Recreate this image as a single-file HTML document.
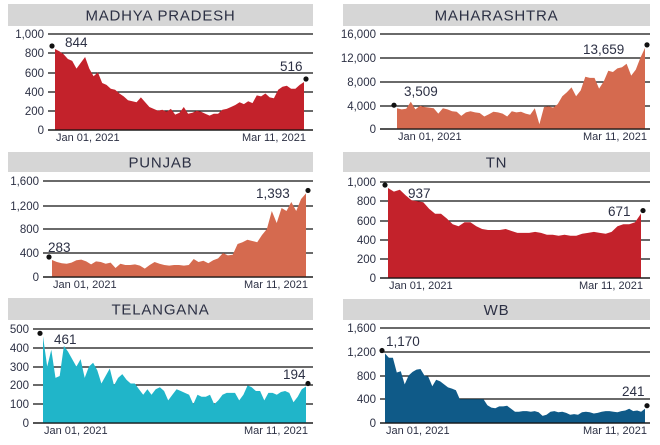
<!DOCTYPE html>
<html><head><meta charset="utf-8"><style>
body{margin:0;background:#fff;width:660px;height:440px;overflow:hidden}
svg text{font-family:"Liberation Sans",sans-serif;fill:#2c3044}
</style></head><body>
<svg id="s" width="660" height="440" xmlns="http://www.w3.org/2000/svg"></svg>
<script>
const P=[
{t:"MADHYA PRADESH",bx:8,bw:305,by:4,bh:22,x0:48,x1:313,d0:55,d1:304,ys:[34,53,73,92,111,130],lab:["1,000","800","600","400","200","0"],max:1000,c:"#c3222b",
v:[844,820,790,740,720,640,700,760,640,560,600,490,470,430,420,380,350,310,300,290,340,290,240,220,200,210,190,220,160,180,240,170,180,200,190,170,150,170,170,210,220,240,260,290,270,300,280,360,350,380,340,330,420,450,460,430,430,470,500],a:"844",ax:65,ay:47,b:"516",bxl:280,byl:71},
{t:"MAHARASHTRA",bx:343,bw:307,by:4,bh:22,x0:380,x1:650,d0:397,d1:645,ys:[34,58,82,106,129],lab:["16,000","12,000","8,000","4,000","0"],max:16000,c:"#d56a4f",
v:[3509,3300,3400,4600,3300,3900,3700,3600,3500,2600,3500,3300,3000,2900,2200,2800,3000,2800,2700,2100,2500,2900,2800,2600,2100,3000,2800,2900,2600,2400,3500,800,3700,3800,3600,4200,5500,6200,7000,5500,6500,8800,8600,8600,6800,8000,9800,9600,10200,10400,11000,9000,10000,12000,13659],a:"3,509",ax:404,ay:96,b:"13,659",bxl:583,byl:54},
{t:"PUNJAB",bx:8,bw:305,by:152,bh:20,x0:43,x1:313,d0:52,d1:306,ys:[181,206,229,253,277],lab:["1,600","1,200","800","400","0"],max:1600,c:"#d56a4f",
v:[283,250,230,220,240,280,290,260,210,260,250,220,240,150,220,200,200,210,190,140,200,250,220,200,190,200,200,190,200,300,250,270,230,280,310,400,360,370,550,580,620,600,580,700,800,1100,900,1150,1100,1250,1100,1300,1393],a:"283",ax:48,ay:252,b:"1,393",bxl:256,byl:198},
{t:"TN",bx:343,bw:307,by:152,bh:20,x0:380,x1:650,d0:388,d1:641,ys:[182,201,221,240,259,278],lab:["1,000","800","600","400","200","0"],max:1000,c:"#c3222b",
v:[937,900,920,860,810,800,790,720,670,670,620,560,540,580,580,540,510,500,500,500,510,490,470,470,470,480,470,450,450,440,450,440,440,460,470,480,470,460,480,540,560,560,580,671],a:"937",ax:408,ay:198,b:"671",bxl:608,byl:216},
{t:"TELANGANA",bx:8,bw:305,by:298,bh:22,x0:33,x1:313,d0:43,d1:306,ys:[329,348,367,385,404,423],lab:["500","400","300","200","100","0"],max:500,c:"#20b5c9",
v:[461,300,390,240,250,410,380,340,300,340,240,300,320,280,210,250,290,200,240,260,230,210,210,180,150,180,150,180,190,170,120,150,180,170,160,150,100,150,140,140,150,100,120,150,160,160,160,120,150,200,190,170,170,120,160,160,150,165,170,160,110,140,180,194],a:"461",ax:54,ay:344,b:"194",bxl:283,byl:379},
{t:"WB",bx:343,bw:307,by:299,bh:21,x0:380,x1:650,d0:385,d1:645,ys:[328,352,376,399,423],lab:["1,600","1,200","800","400","0"],max:1600,c:"#0f5a88",
v:[1170,1100,1100,850,870,650,800,860,900,910,800,780,620,730,700,650,600,580,550,400,400,400,400,400,400,400,300,260,250,280,280,290,240,190,190,200,200,190,200,180,120,140,190,200,180,190,170,140,150,140,180,190,180,160,170,190,200,200,190,180,200,210,240,200,210,190,241],a:"1,170",ax:386,ay:346,b:"241",bxl:622,byl:396}
];
let h="";
for(const p of P){
 h+=`<rect x="${p.bx}" y="${p.by}" width="${p.bw}" height="${p.bh}" fill="#d6d6d6"/>`;
 h+=`<text x="${p.bx+p.bw/2}" y="${p.by+p.bh/2+5.5}" text-anchor="middle" font-size="15" letter-spacing="0.8">${p.t}</text>`;
 const y0=p.ys[p.ys.length-1],yt=p.ys[0];
 const Y=v=>y0-(v/p.max)*(y0-yt);
 const n=p.v.length;let pts=`${p.d0},${y0} `;
 p.v.forEach((v,i)=>{pts+=`${(p.d0+(p.d1-p.d0)*i/(n-1)).toFixed(1)},${Y(v).toFixed(1)} `});
 pts+=`${p.d1},${y0}`;
 p.ys.forEach((y,i)=>{h+=`<line x1="${p.x0}" x2="${p.x1}" y1="${y}" y2="${y}" stroke="#111" stroke-width="1.3"/>`;
  h+=`<text x="${p.x0-4}" y="${y+4}" text-anchor="end" font-size="11.5">${p.lab[i]}</text>`;});
 h+=`<polygon points="${pts}" fill="${p.c}"/>`;
 h+=`<line x1="${p.x0}" x2="${p.x1}" y1="${y0}" y2="${y0}" stroke="#111" stroke-width="1.3"/>`;
 h+=`<circle cx="${p.d0-3}" cy="${Y(p.v[0])-3}" r="2.6" fill="#111"/>`;
 h+=`<circle cx="${p.d1+2}" cy="${Y(p.v[n-1])-3}" r="2.6" fill="#111"/>`;
 h+=`<text x="${p.ax}" y="${p.ay}" font-size="13.5">${p.a}</text>`;
 h+=`<text x="${p.bxl}" y="${p.byl}" font-size="13.5">${p.b}</text>`;
 h+=`<text x="${p.d0+1}" y="${y0+11}" font-size="11">Jan 01, 2021</text>`;
 h+=`<text x="${p.d1+2}" y="${y0+11}" text-anchor="end" font-size="11">Mar 11, 2021</text>`;
}
document.getElementById("s").innerHTML=h;
</script>
</body></html>
